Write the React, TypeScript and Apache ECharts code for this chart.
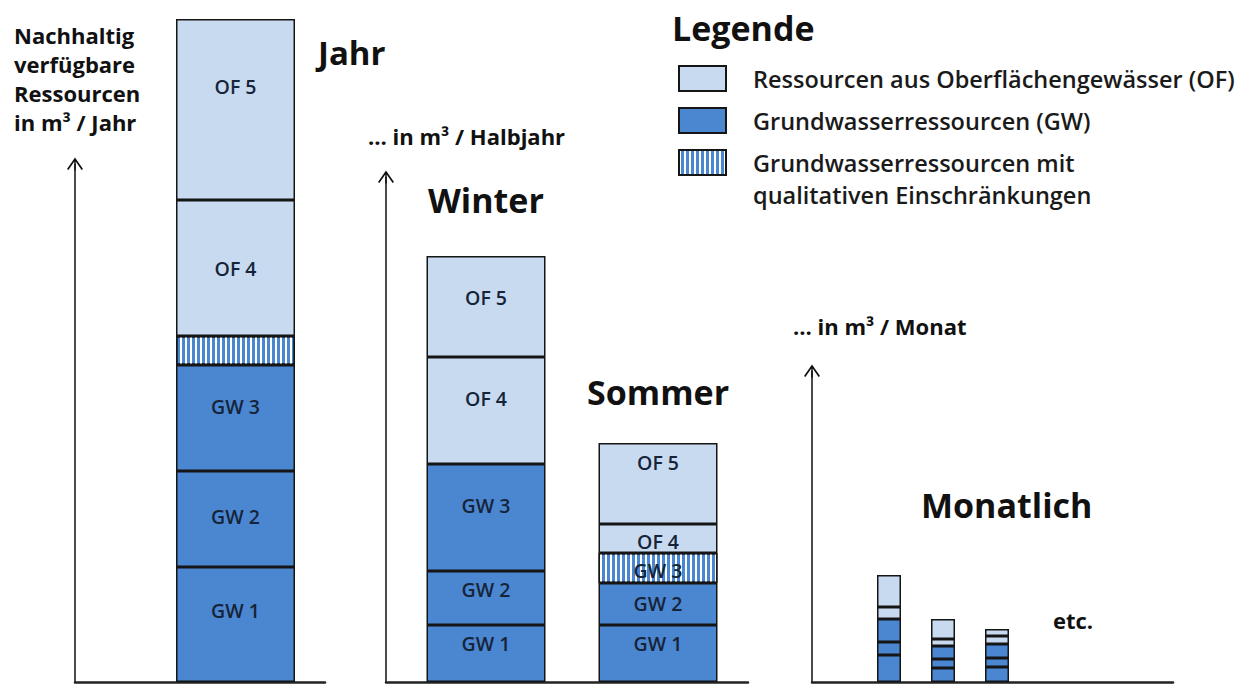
import React, { useEffect, useRef } from 'react';
import * as echarts from 'echarts';

// ---------- data (arbitrary units) ----------
const jahrCategories = ['Jahr'];
const halbjahrCategories = ['Winter', 'Sommer'];
const monatCategories = ['Monat 1', 'Monat 2', 'Monat 3'];

const jahrGW1 = [11.5];
const jahrGW2 = [9.6];
const jahrGW3 = [10.6];
const jahrGW3q = [2.9];
const jahrOF4 = [13.6];
const jahrOF5 = [18.1];

const halbGW1 = [5.7, 5.7];
const halbGW2 = [5.4, 4.2];
const halbGW3: (number | string)[] = [10.7, '-'];
const halbGW3q: (number | string)[] = ['-', 3.0];
const halbOF4 = [10.7, 2.9];
const halbOF5 = [10.1, 8.1];

const monatGW1 = [2.7, 1.4, 1.5];
const monatGW2 = [1.3, 0.9, 0.9];
const monatGW3 = [2.3, 1.3, 1.4];
const monatOF4 = [1.2, 0.7, 0.8];
const monatOF5 = [3.2, 2.0, 0.7];

const OF_NAME = 'Ressourcen aus Oberflächengewässer (OF)';
const GW_NAME = 'Grundwasserressourcen (GW)';
const GWQ_NAME = 'Grundwasserressourcen mit\nqualitativen Einschränkungen';

// ---------- styles ----------
const FONT = '"Open Sans", "Noto Sans", sans-serif';
const OF_COLOR = '#c8daf0';
const GW_COLOR = '#4b87d0';
const BORDER = '#151515';
const LABEL_COLOR = '#16243a';
const Y_MAX = 66.3;

const hatch = {
  symbol: 'rect',
  symbolSize: 1,
  color: '#ffffff',
  dashArrayX: [1.6, 2.1],
  dashArrayY: [6, 0],
  rotation: 0,
};

const ARROW = 'path://M8,0 L16,11.5 L14.6,12.5 L8,3 L1.4,12.5 L0,11.5 Z M7.3,1 L8.7,1 L8.7,13 L7.3,13 Z';

type Kind = 'of' | 'gw' | 'gwq';

function seg(
  name: string,
  kind: Kind,
  data: (number | string)[],
  axis: number,
  stack: string,
  label: string | null,
  offsets: number[] | null,
  barWidth: number
) {
  return {
    type: 'bar',
    name,
    stack,
    xAxisIndex: axis,
    yAxisIndex: axis,
    barWidth,
    itemStyle: {
      color: kind === 'of' ? OF_COLOR : GW_COLOR,
      borderColor: BORDER,
      borderWidth: 1.5,
      decal: kind === 'gwq' ? hatch : undefined,
    },
    label: {
      show: !!label,
      position: 'inside',
      formatter: label || '',
      fontFamily: FONT,
      fontSize: 19.5,
      fontWeight: 600,
      color: LABEL_COLOR,
    },
    emphasis: { disabled: true },
    data: data.map((v, i) =>
      v === '-'
        ? '-'
        : { value: v, label: { offset: [0, offsets ? offsets[i] : 0] } }
    ),
  };
}

function axisGrid(left: number, width: number, top: number) {
  return { left, width, top, bottom: 2 };
}

const legendText = {
  fontFamily: FONT,
  fontSize: 23.5,
  fontWeight: 600,
  color: '#1a1a1a',
  lineHeight: 32,
  padding: [0, 0, 0, 22],
};

export default function App() {
  const ref = useRef<HTMLDivElement>(null);
  useEffect(() => {
    document.body.style.margin = '0';
    if (!ref.current) return;
    const chart = echarts.init(ref.current, undefined, { renderer: 'svg' });

    const hiddenX = (data: string[], gridIndex: number) => ({
      type: 'category',
      gridIndex,
      data,
      show: false,
    });
    const hiddenY = (gridIndex: number) => ({
      type: 'value',
      gridIndex,
      min: 0,
      max: Y_MAX,
      show: false,
    });
    const lineX = (gridIndex: number) => ({
      type: 'category',
      gridIndex,
      data: [''],
      axisLine: { show: true, lineStyle: { color: '#222', width: 2.5 } },
      axisTick: { show: false },
      axisLabel: { show: false },
    });
    const lineY = (gridIndex: number) => ({
      type: 'value',
      gridIndex,
      min: 0,
      max: 1,
      axisLine: {
        show: true,
        symbol: ['none', ARROW],
        symbolSize: [16, 13],
        lineStyle: { color: '#111', width: 1.5 },
      },
      axisTick: { show: false },
      axisLabel: { show: false },
      splitLine: { show: false },
    });

    const text = (x: number, y: number, t: string, size: number, extra: any = {}) => ({
      type: 'text',
      x,
      y,
      style: {
        text: t,
        fontFamily: FONT,
        fontSize: size,
        fontWeight: 'bold',
        fill: '#111',
        verticalAlign: 'middle',
        ...extra,
      },
    });

    const legendBase = {
      orient: 'vertical',
      left: 678,
      padding: 0,
      itemWidth: 47,
      itemHeight: 25,
      itemGap: 10,
      selectedMode: false,
      icon: 'rect',
      textStyle: legendText,
    };

    chart.setOption({
      animation: false,
      backgroundColor: '#ffffff',
      grid: [
        // bar grids (0..2)
        { left: 176, width: 119, top: 19, bottom: 2 },
        { left: 400, width: 344, top: 19, bottom: 2 },
        { left: 862, width: 162, top: 19, bottom: 2 },
        // axis grids (3..5)
        axisGrid(75, 250, 164),
        axisGrid(386, 362, 177),
        axisGrid(812, 361, 371),
      ],
      xAxis: [
        hiddenX(jahrCategories, 0),
        hiddenX(halbjahrCategories, 1),
        hiddenX(monatCategories, 2),
        lineX(3),
        lineX(4),
        lineX(5),
      ],
      yAxis: [hiddenY(0), hiddenY(1), hiddenY(2), lineY(3), lineY(4), lineY(5)],
      legend: [
        { ...legendBase, top: 62.5, data: [OF_NAME, GW_NAME] },
        {
          ...legendBase,
          top: 114.5,
          data: [GWQ_NAME],
          // leading empty line keeps the first text line level with the icon
          formatter: (name: string) => '\n' + name,
        },
      ],
      series: [
        seg(GW_NAME, 'gw', jahrGW1, 0, 'jahr', 'GW 1', [-14], 119),
        seg(GW_NAME, 'gw', jahrGW2, 0, 'jahr', 'GW 2', [-3], 119),
        seg(GW_NAME, 'gw', jahrGW3, 0, 'jahr', 'GW 3', [-12], 119),
        seg(GWQ_NAME, 'gwq', jahrGW3q, 0, 'jahr', null, null, 119),
        seg(OF_NAME, 'of', jahrOF4, 0, 'jahr', 'OF 4', [0], 119),
        seg(OF_NAME, 'of', jahrOF5, 0, 'jahr', 'OF 5', [-23], 119),

        seg(GW_NAME, 'gw', halbGW1, 1, 'halb', 'GW 1', [-10, -10], 119),
        seg(GW_NAME, 'gw', halbGW2, 1, 'halb', 'GW 2', [-9, -1], 119),
        seg(GW_NAME, 'gw', halbGW3, 1, 'halb', 'GW 3', [-12, 0], 119),
        seg(GWQ_NAME, 'gwq', halbGW3q, 1, 'halb', 'GW 3', [0, 2], 119),
        seg(OF_NAME, 'of', halbOF4, 1, 'halb', 'OF 4', [-12, 3], 119),
        seg(OF_NAME, 'of', halbOF5, 1, 'halb', 'OF 5', [-9, -21], 119),

        seg(GW_NAME, 'gw', monatGW1, 2, 'monat', null, null, 24),
        seg(GW_NAME, 'gw', monatGW2, 2, 'monat', null, null, 24),
        seg(GW_NAME, 'gw', monatGW3, 2, 'monat', null, null, 24),
        seg(OF_NAME, 'of', monatOF4, 2, 'monat', null, null, 24),
        seg(OF_NAME, 'of', monatOF5, 2, 'monat', null, null, 24),
      ],
      graphic: [
        text(14, 20, 'Nachhaltig\nverfügbare\nRessourcen\nin m³ / Jahr', 22, {
          verticalAlign: 'top',
          lineHeight: 29,
        }),
        text(318, 52, 'Jahr', 33),
        text(368, 136, '… in m³ / Halbjahr', 22),
        text(428, 200, 'Winter', 34),
        text(587, 392, 'Sommer', 34),
        text(793, 326, '… in m³ / Monat', 22),
        text(921, 505, 'Monatlich', 34),
        text(1053, 620, 'etc.', 22),
        text(672, 28, 'Legende', 34),
      ],
    });
    return () => chart.dispose();
  }, []);
  return <div ref={ref} style={{ width: 1250, height: 684 }} />;
}
